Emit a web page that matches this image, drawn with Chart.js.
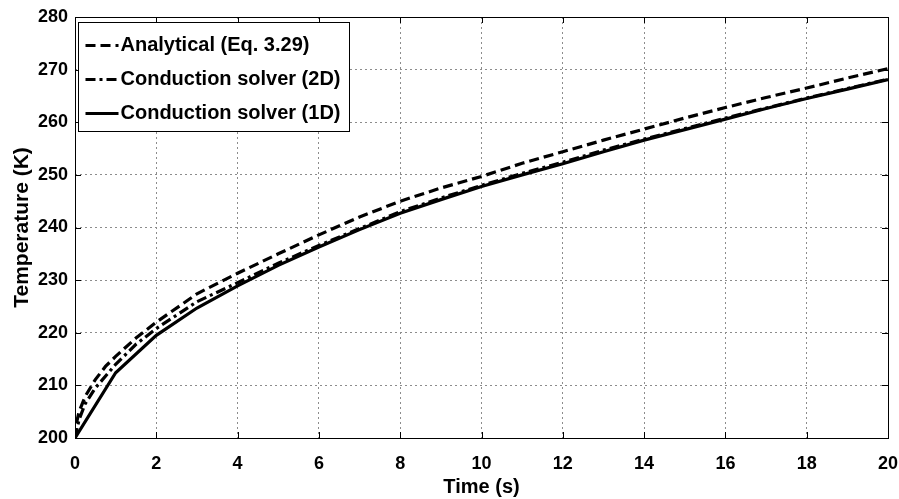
<!DOCTYPE html>
<html><head><meta charset="utf-8">
<script src="https://cdn.jsdelivr.net/npm/chart.js@4/dist/chart.umd.min.js"></script>
<style>html,body{margin:0;padding:0;background:#fff}#wrap{width:899px;height:499px;position:relative}</style>
</head><body><div id="wrap"><canvas id="c" width="899" height="499"></canvas></div>
<script>
const seriesLabels = ['Analytical (Eq. 3.29)', 'Conduction solver (2D)', 'Conduction solver (1D)'];

const timeAnalytical = [0, 0.05, 0.1, 0.25, 0.5, 0.75, 1, 1.5, 2, 3, 4, 5, 6, 7, 8, 9, 10, 11, 12, 13, 14, 15, 16, 17, 18, 19, 20];
const tempAnalytical = [200, 203.3, 205, 207.9, 211.1, 213.6, 215.5, 219, 222, 227.4, 231.3, 235, 238.6, 242, 245, 247.5, 249.7, 252.2, 254.4, 256.6, 258.7, 260.8, 262.8, 264.7, 266.5, 268.4, 270.2];

const time2D = [0, 0.1, 0.25, 0.5, 1, 1.5, 2, 3, 4, 5, 6, 7, 8, 9, 10, 11, 12, 13, 14, 15, 16, 17, 18, 19, 20];
const temp2D = [200, 203.5, 206.5, 209.5, 214, 217.8, 220.8, 225.9, 229.5, 233.2, 236.6, 239.8, 243, 245.6, 248, 250.3, 252.4, 254.7, 256.8, 258.8, 260.8, 262.7, 264.6, 266.4, 268.2];

const time1D = [0, 1, 2, 3, 4, 5, 6, 7, 8, 9, 10, 11, 12, 13, 14, 15, 16, 17, 18, 19, 20];
const temp1D = [200, 212.4, 219.5, 224.7, 228.9, 232.8, 236.3, 239.6, 242.7, 245.3, 247.8, 250.0, 252.1, 254.4, 256.6, 258.6, 260.6, 262.6, 264.5, 266.3, 268.1];

const xTicks = [0, 2, 4, 6, 8, 10, 12, 14, 16, 18, 20];
const yTicks = [200, 210, 220, 230, 240, 250, 260, 270, 280];

const toPts = (xs, ys) => xs.map((x, i) => ({x: x, y: ys[i]}));
const FONT = '"Liberation Sans", Arial, sans-serif';

const framePlugin = {
  id: 'frame',
  afterDatasetsDraw(chart) {
    const {ctx, chartArea: a, scales} = chart;
    ctx.save();
    ctx.strokeStyle = '#000';
    ctx.lineWidth = 1;
    ctx.beginPath();
    const tl = 6;
    xTicks.forEach(v => {
      const px = Math.round(scales.x.getPixelForValue(v)) + 0.5;
      ctx.moveTo(px, a.bottom); ctx.lineTo(px, a.bottom - tl);
      ctx.moveTo(px, a.top); ctx.lineTo(px, a.top + tl);
    });
    yTicks.forEach(v => {
      const py = Math.round(scales.y.getPixelForValue(v)) + 0.5;
      ctx.moveTo(a.left, py); ctx.lineTo(a.left + tl, py);
      ctx.moveTo(a.right, py); ctx.lineTo(a.right - tl, py);
    });
    ctx.stroke();
    ctx.strokeRect(Math.round(a.left) + 0.5, Math.round(a.top) + 0.5, Math.round(a.right - a.left), Math.round(a.bottom - a.top));

    // legend
    ctx.font = 'bold 20px ' + FONT;
    const bx = Math.round(a.left) + 3.5, by = Math.round(a.top) + 5.5;
    const sampleX0 = bx + 7, sampleX1 = bx + 40, textX = bx + 42;
    let maxW = 0;
    chart.data.datasets.forEach(d => { maxW = Math.max(maxW, ctx.measureText(d.label).width); });
    const bw = Math.round(textX - bx + maxW + 9), bh = 109;
    ctx.fillStyle = '#fff';
    ctx.fillRect(bx, by, bw, bh);
    ctx.strokeStyle = '#000';
    ctx.lineWidth = 1;
    ctx.setLineDash([]);
    ctx.strokeRect(bx, by, bw, bh);
    chart.data.datasets.forEach((d, i) => {
      const cy = by + 23 + i * 34;
      ctx.save();
      ctx.strokeStyle = d.borderColor;
      ctx.lineWidth = d.borderWidth;
      ctx.setLineDash(d.borderDash || []);
      ctx.beginPath();
      ctx.moveTo(sampleX0, cy); ctx.lineTo(sampleX1, cy);
      ctx.stroke();
      ctx.restore();
      ctx.fillStyle = '#000';
      ctx.textBaseline = 'middle';
      ctx.textAlign = 'left';
      ctx.fillText(d.label, textX, cy);
    });
    ctx.restore();
  }
};

const bgPlugin = {
  id: 'bg',
  beforeDraw(chart) {
    const {ctx} = chart;
    ctx.save(); ctx.fillStyle = '#fff'; ctx.fillRect(0, 0, chart.width, chart.height); ctx.restore();
  }
};

new Chart(document.getElementById('c'), {
  type: 'line',
  data: {
    datasets: [
      {label: seriesLabels[0], data: toPts(timeAnalytical, tempAnalytical), borderColor: '#000', borderWidth: 3.2, borderDash: [10, 5], pointRadius: 0, tension: 0, fill: false},
      {label: seriesLabels[1], data: toPts(time2D, temp2D), borderColor: '#000', borderWidth: 3.2, borderDash: [10, 4, 3, 4], pointRadius: 0, tension: 0, fill: false},
      {label: seriesLabels[2], data: toPts(time1D, temp1D), borderColor: '#000', borderWidth: 3.2, pointRadius: 0, tension: 0, fill: false}
    ]
  },
  options: {
    responsive: false,
    animation: false,
    layout: {padding: {left: 0, top: 17, right: 11, bottom: 0}},
    plugins: {legend: {display: false}, tooltip: {enabled: false}},
    scales: {
      x: {
        type: 'linear', min: 0, max: 20,
        afterBuildTicks: s => { s.ticks = xTicks.map(v => ({value: v})); },
        afterFit: s => { s.height = 61; s.paddingLeft = 0; s.paddingRight = 0; },
        ticks: {color: '#000', font: {family: FONT, size: 18, weight: 'bold'}, padding: 15, maxRotation: 0},
        grid: {color: '#8c8c8c', lineWidth: 1, drawTicks: false},
        border: {display: false, dash: [2, 3]},
        title: {display: true, text: 'Time (s)', color: '#000', font: {family: FONT, size: 20, weight: 'bold'}, padding: {top: 0, bottom: 0}}
      },
      y: {
        type: 'linear', min: 200, max: 280,
        afterBuildTicks: s => { s.ticks = yTicks.map(v => ({value: v})); },
        afterFit: s => { s.width = 75; s.paddingTop = 0; s.paddingBottom = 0; },
        ticks: {color: '#000', font: {family: FONT, size: 18, weight: 'bold'}, padding: 7},
        grid: {color: '#8c8c8c', lineWidth: 1, drawTicks: false},
        border: {display: false, dash: [2, 3]},
        title: {display: true, text: 'Temperature (K)', color: '#000', font: {family: FONT, size: 21, weight: 'bold'}, padding: {top: 10, bottom: 0}}
      }
    }
  },
  plugins: [bgPlugin, framePlugin]
});
</script>
</body></html>
